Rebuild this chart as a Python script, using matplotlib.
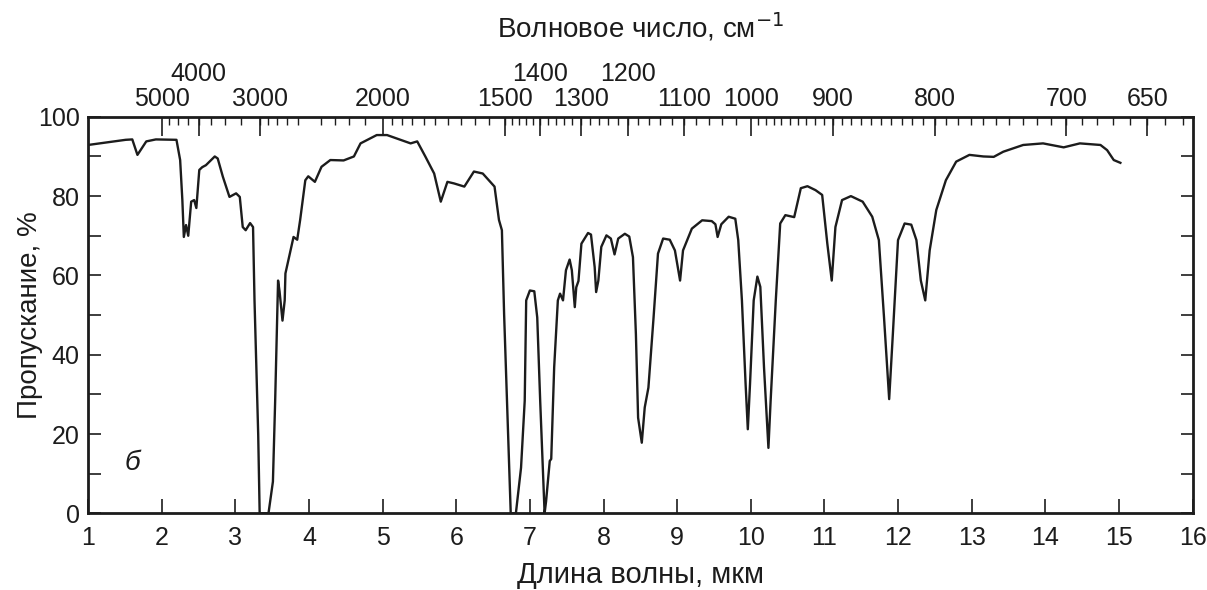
import matplotlib
matplotlib.use("Agg")
import matplotlib.pyplot as plt
import numpy as np

plt.rcParams['font.family'] = ['Liberation Sans', 'DejaVu Sans']

# длина волны, мкм
wavelength = [
    1.00, 1.51, 1.60, 1.67, 1.79, 1.92, 2.20, 2.25, 2.28, 2.30,
    2.33, 2.36, 2.40, 2.44, 2.47, 2.51, 2.55, 2.60, 2.72, 2.76,
    2.83, 2.92, 3.01, 3.06, 3.10, 3.14, 3.20, 3.24, 3.26, 3.31,
    3.33, 3.45, 3.51, 3.54, 3.58, 3.60, 3.64, 3.67, 3.68, 3.74,
    3.79, 3.84, 3.88, 3.95, 3.99, 4.08, 4.17, 4.29, 4.47, 4.61,
    4.70, 4.92, 5.06, 5.38, 5.47, 5.58, 5.70, 5.79, 5.88, 5.97,
    6.11, 6.24, 6.36, 6.52, 6.58, 6.62, 6.65, 6.72, 6.74, 6.81,
    6.88, 6.93, 6.95, 7.00, 7.06, 7.10, 7.14, 7.20, 7.22, 7.27,
    7.29, 7.33, 7.38, 7.41, 7.45, 7.49, 7.54, 7.57, 7.61, 7.63,
    7.66, 7.70, 7.79, 7.83, 7.88, 7.90, 7.93, 7.97, 8.04, 8.10,
    8.15, 8.20, 8.29, 8.35, 8.40, 8.44, 8.47, 8.52, 8.56, 8.61,
    8.68, 8.74, 8.81, 8.90, 8.97, 9.04, 9.08, 9.20, 9.34, 9.47,
    9.52, 9.55, 9.60, 9.70, 9.79, 9.83, 9.88, 9.93, 9.96, 9.99,
    10.04, 10.09, 10.13, 10.18, 10.24, 10.27, 10.34, 10.40, 10.47, 10.59,
    10.68, 10.77, 10.88, 10.97, 11.04, 11.10, 11.15, 11.24, 11.36, 11.52,
    11.65, 11.74, 11.81, 11.88, 11.93, 12.00, 12.09, 12.18, 12.25, 12.31,
    12.37, 12.43, 12.52, 12.65, 12.79, 12.97, 13.16, 13.30, 13.43, 13.70,
    13.97, 14.25, 14.47, 14.75, 14.84, 14.93, 15.02,
]

# пропускание, %
transmission = [
    92.9, 94.2, 94.3, 90.4, 93.8, 94.3, 94.2, 89.1, 79.0, 69.7,
    72.7, 70.0, 78.6, 79.0, 77.0, 86.6, 87.3, 87.8, 90.0, 89.5,
    84.9, 79.8, 80.7, 79.8, 72.2, 71.4, 73.2, 72.2, 53.7, 20.0,
    0.0, 0.0, 8.0, 28.0, 58.7, 56.0, 48.6, 53.7, 60.5, 65.5,
    69.7, 69.0, 74.0, 84.0, 85.0, 83.6, 87.4, 89.1, 89.0, 90.0,
    93.3, 95.4, 95.4, 93.3, 93.8, 90.0, 85.7, 78.6, 83.6, 83.2,
    82.4, 86.2, 85.7, 82.4, 74.0, 71.4, 50.3, 11.5, 0.0, 0.0,
    11.5, 28.4, 53.7, 56.2, 56.0, 49.4, 28.4, 0.0, 3.0, 13.2,
    13.7, 36.8, 53.7, 55.4, 53.7, 61.3, 64.0, 61.3, 52.0, 57.0,
    58.6, 68.0, 70.7, 70.3, 62.1, 55.8, 58.7, 67.2, 70.1, 69.3,
    65.3, 69.3, 70.5, 69.8, 64.6, 45.2, 24.1, 17.8, 26.7, 31.7,
    49.4, 65.5, 69.3, 69.0, 66.3, 58.7, 66.3, 71.8, 73.9, 73.7,
    72.9, 69.7, 72.9, 74.8, 74.3, 68.9, 53.7, 32.6, 21.2, 32.6,
    53.7, 59.7, 57.1, 36.8, 16.5, 28.4, 53.7, 73.1, 75.2, 74.7,
    82.0, 82.5, 81.5, 80.3, 68.0, 58.7, 72.2, 79.0, 80.0, 78.6,
    74.8, 68.9, 49.4, 28.8, 45.2, 68.9, 73.1, 72.8, 68.9, 58.7,
    53.7, 66.3, 76.5, 84.0, 88.7, 90.4, 90.0, 89.9, 91.2, 92.9,
    93.3, 92.3, 93.3, 92.9, 91.6, 89.1, 88.4,
]

# верхняя шкала, см-1 (два ряда подписей)
wn_lower = [5000, 3000, 2000, 1500, 1300, 1100, 1000, 900, 800, 700, 650]
wn_upper = [4000, 1400, 1200]
wn_minor = (list(range(4750, 3000, -250)) + list(range(3000, 2000, -100))
            + list(range(2000, 1500, -50)) + list(range(1500, 1000, -20))
            + list(range(1000, 620, -10)))

INK = "#1c1c1c"


def wn(x):
    x = np.asarray(x, dtype=float)
    with np.errstate(divide="ignore"):
        return 1e4 / x


fig = plt.figure(figsize=(12.07, 5.90), dpi=100)
ax = fig.add_axes([0.073, 0.130, 0.915, 0.672])

ax.plot(wavelength, transmission, color=INK, lw=1.7, solid_joinstyle="round")

ax.set_xlim(1, 16)
ax.set_ylim(0, 100)
ax.set_xticks(range(1, 17))
# мелкие деления волновых чисел рисуем на верхней стороне основной оси
ax.set_xticks(wn(wn_minor), minor=True)
ax.set_yticks(range(0, 101, 20))
ax.set_yticks(range(0, 101, 10), minor=True)
ax.tick_params(axis="x", which="major", direction="in", length=10, width=1.2,
               colors=INK, labelsize=18, pad=9, top=False)
ax.tick_params(axis="x", which="minor", direction="in", length=6, width=1.0,
               colors=INK, top=True, bottom=False)
ax.tick_params(axis="y", which="both", direction="in", length=9, width=1.2,
               colors=INK, labelsize=18, pad=6, right=True)
for s in ax.spines.values():
    s.set_linewidth(2.0)
    s.set_color(INK)

ax.set_xlabel("Длина волны, мкм", fontsize=21, color=INK, labelpad=8)
ax.set_ylabel("Пропускание, %", fontsize=20, color=INK, labelpad=-4)
ax.text(1.5, 11, "б", fontsize=20, style="italic", color=INK)

top = ax.secondary_xaxis("top", functions=(wn, wn))
top.set_xticks(wn_lower)
top.set_xticklabels([str(v) for v in wn_lower])
top.tick_params(which="major", direction="in", length=14, width=1.2,
                colors=INK, labelsize=18, pad=4)
top.spines["top"].set_visible(False)

top2 = ax.secondary_xaxis("top", functions=(wn, wn))
top2.set_xticks(wn_upper)
top2.set_xticklabels([str(v) for v in wn_upper])
top2.tick_params(which="major", direction="in", length=14, width=1.2,
                 colors=INK, labelsize=18, pad=22)
top2.spines["top"].set_visible(False)
top2.set_xlabel("Волновое число, см$^{-1}$", fontsize=20, color=INK, labelpad=18)

fig.savefig("out.png", dpi=100)
